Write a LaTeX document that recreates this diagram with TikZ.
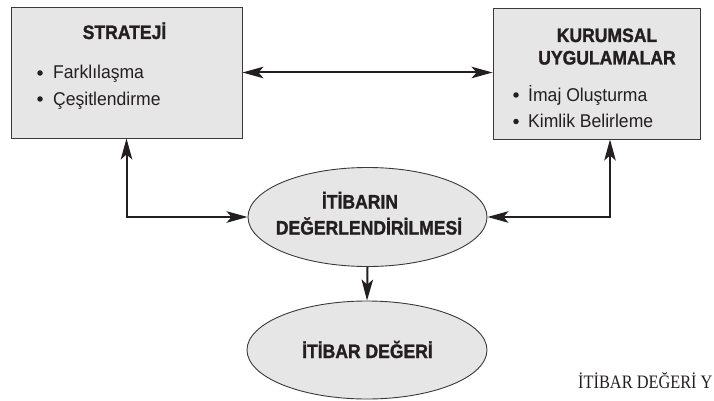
\documentclass[tikz,border=0pt]{standalone}
\usepackage{fontspec}
\setmainfont{Liberation Sans}
\newfontfamily\headfont{Liberation Sans}[FakeStretch=0.9, BoldFeatures={FakeBold=1.3}]
\newfontfamily\itemfont{Liberation Sans}[FakeStretch=0.95]
\newfontfamily\capfont{Liberation Serif}[FakeStretch=0.86]
\usetikzlibrary{arrows.meta,shapes.geometric}

\definecolor{panelgray}{HTML}{E6E6E7}
\definecolor{edgegray}{HTML}{3A3A3A}
\definecolor{inkblack}{HTML}{231F20}

\tikzset{
  panel/.style={draw=edgegray, line width=0.9pt, fill=panelgray, rectangle,
    inner sep=0pt},
  oval/.style={draw=edgegray, line width=0.9pt, fill=panelgray, ellipse,
    inner sep=0pt},
  head/.style={font=\headfont\bfseries\fontsize{19.5}{24}\selectfont,
    text=inkblack, anchor=base, inner sep=0pt},
  item/.style={font=\itemfont\fontsize{18.5}{22}\selectfont,
    text=inkblack, anchor=base west, inner sep=0pt},
  dot/.style={circle, fill=inkblack, minimum size=5.5pt, inner sep=0pt},
  link/.style={line width=2pt, draw=inkblack, {Stealth[length=21pt,width=11.5pt,inset=5pt]}-{Stealth[length=21pt,width=11.5pt,inset=5pt]}},
  onelink/.style={line width=2pt, draw=inkblack, -{Stealth[length=21pt,width=11.5pt,inset=5pt]}},
}

\begin{document}
\begin{tikzpicture}[x=1pt,y=-1pt]
\useasboundingbox (0,0) rectangle (714,401);

% boxes
\node[panel, minimum width=231pt, minimum height=131pt] (strat) at (126.5,72.5) {};
\node[panel, minimum width=207pt, minimum height=131pt] (kurum) at (596.5,73.5) {};

% ellipses
\node[oval, minimum width=239pt, minimum height=99pt] (eval) at (367.5,217) {};
\node[oval, minimum width=240pt, minimum height=98pt] (value) at (367,350) {};

% strategy box text
\node[head] (stratT) at (124.5,39) {STRATEJİ};
\node[dot] (sb1) at (40,73) {};
\node[item] (si1) at (53,79) {Farklılaşma};
\node[dot] (sb2) at (40,99) {};
\node[item] (si2) at (53,105.5) {Çeşitlendirme};

% corporate practices box text
\node[head] (kurumT1) at (607,42) {KURUMSAL};
\node[head] (kurumT2) at (607,64.5) {UYGULAMALAR};
\node[dot] (kb1) at (516,95) {};
\node[item] (ki1) at (528,101.5) {İmaj Oluşturma};
\node[dot] (kb2) at (516,121.5) {};
\node[item] (ki2) at (528,128) {Kimlik Belirleme};

% ellipse text
\node[head] (evalT1) at (360,208.5) {İTİBARIN};
\node[head] (evalT2) at (369,234.5) {DEĞERLENDİRİLMESİ};
\node[head] (valueT) at (367.5,358) {İTİBAR DEĞERİ};

% caption fragment
\node[font=\capfont\fontsize{19}{22}\selectfont, text=inkblack, anchor=base west,
  inner sep=0pt] (cap) at (578,388.5) {İTİBAR DEĞERİ Y};

% connectors
\coordinate (kdrop) at ([xshift=13.5pt]kurum.south);
\draw[link] (strat.east) -- (strat.east -| kurum.west);
\draw[link] (strat.south) |- (eval.west);
\draw[link] (kdrop) |- (eval.east);
\draw[onelink] (eval.south) -- (value.north);
\end{tikzpicture}
\end{document}
